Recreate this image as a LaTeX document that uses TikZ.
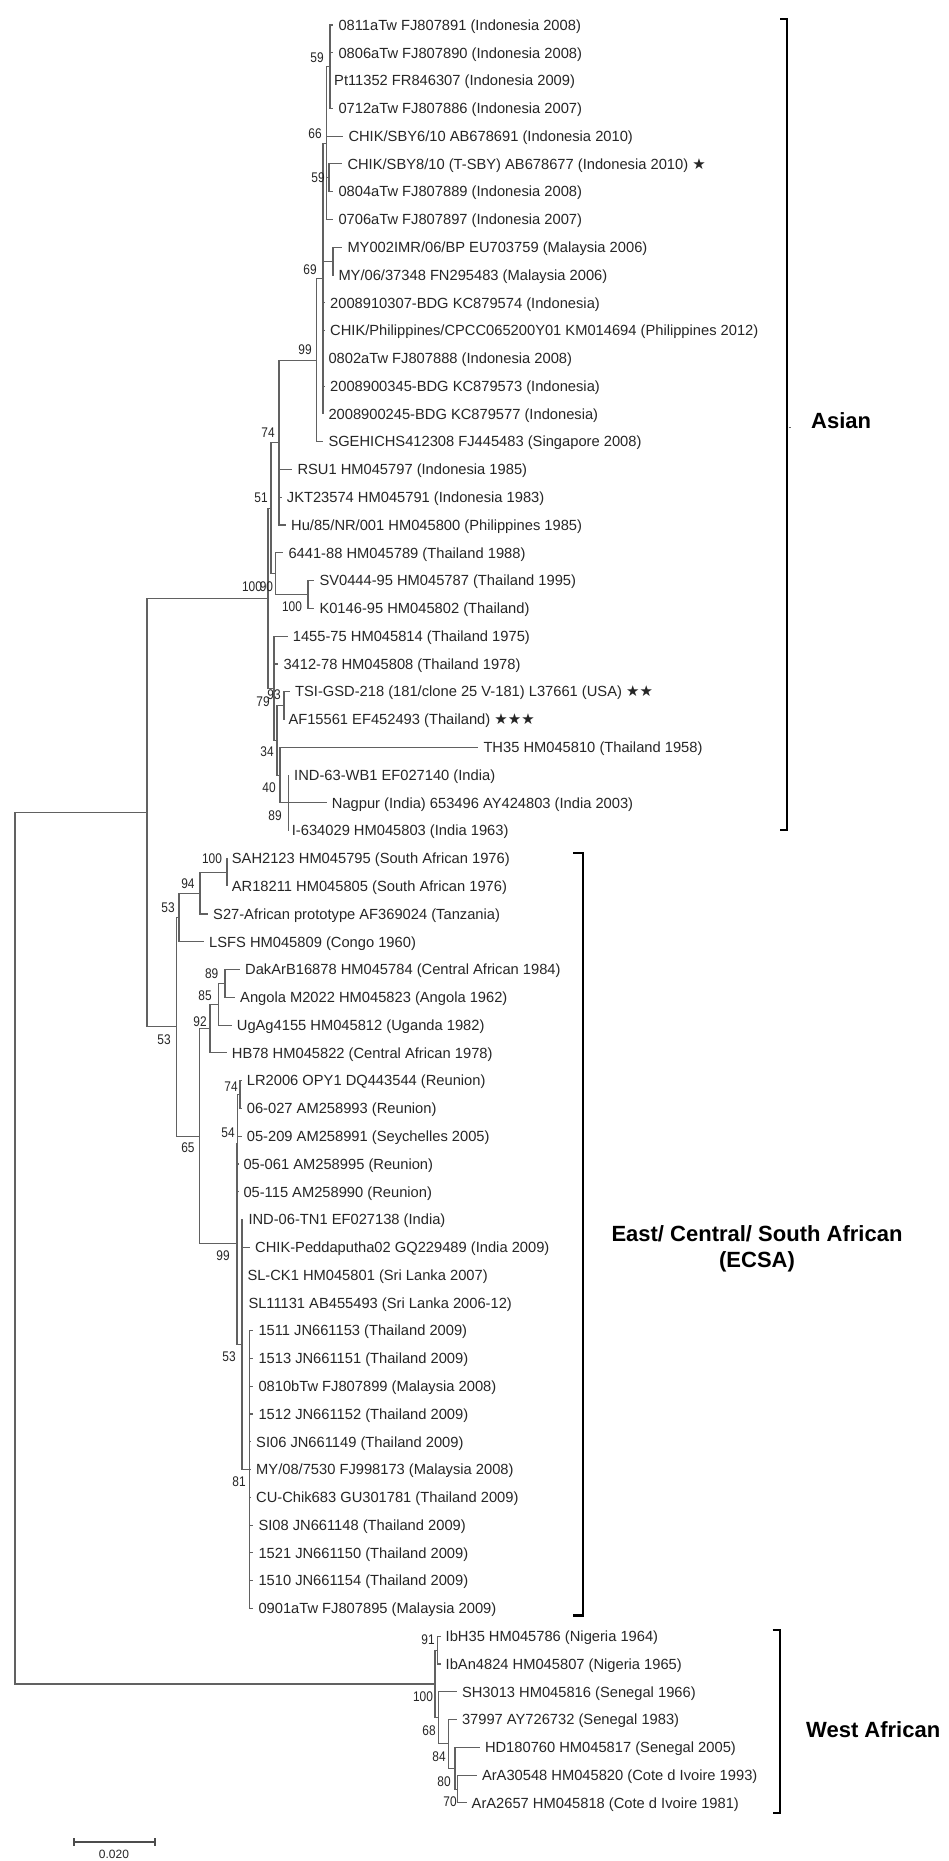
\documentclass[tikz,border=0pt]{standalone}
\usepackage{fontspec}
\usepackage{graphicx}
\setmainfont{Liberation Sans}
\newfontfamily\starfont{DejaVu Sans}
\newcommand{\leaffont}{\fontsize{14.7}{16}\selectfont}
\newcommand{\bsfont}{\fontsize{14}{14}\selectfont}
\newcommand{\grpfont}{\fontsize{22}{26}\selectfont\bfseries}
\newcommand{\bsv}[1]{\scalebox{0.85}[1]{#1}}
\newcommand{\stars}[1]{{\starfont\fontsize{15}{15}\selectfont #1}}
\begin{document}
\begin{tikzpicture}[x=1pt,y=-1pt,
  br/.style={draw=black!62, line width=1.1pt},
  leaf/.style={anchor=west, inner sep=0pt, font=\leaffont, text=black!85, text height=10.5pt, text depth=0pt},
  bs/.style={inner sep=0pt, font=\bsfont, text=black!85},
  grp/.style={inner sep=0pt, font=\grpfont, text=black},
  bracket/.style={draw=black, line width=2.3pt}]
\useasboundingbox (0,0) rectangle (949,1861);
\fill[white] (0,0) rectangle (949,1861);

% ---------- internal nodes ----------
\coordinate (root) at (15,1248.24);
\coordinate (AE) at (147,812.49);
\coordinate (R) at (268,598.18);
\coordinate (n51) at (271,508.10);
\coordinate (n74) at (279,442.57);
\coordinate (n99) at (316.7,360.10);
\coordinate (P) at (323,278.50);
\coordinate (n66) at (326.7,143.07);
\coordinate (nA) at (330,66.67);
\coordinate (n59b) at (329,177.79);
\coordinate (nMY) at (333,261.13);
\coordinate (n90) at (275.7,573.66);
\coordinate (n100b) at (308,594.49);
\coordinate (n79) at (274,688.25);
\coordinate (n34) at (277,740.34);
\coordinate (n93) at (284,705.61);
\coordinate (n40) at (280,775.06);
\coordinate (n89) at (288.3,802.84);
\coordinate (E0) at (176.5,1026.8);
\coordinate (n53u) at (179,917.43);
\coordinate (n94) at (200,893.13);
\coordinate (n100e) at (227,872.29);
\coordinate (n65) at (199.5,1136.2);
\coordinate (n92) at (210,1028.55);
\coordinate (n85) at (218.3,1004.25);
\coordinate (n89e) at (225,983.41);
\coordinate (n99e) at (237,1243.85);
\coordinate (n54) at (237.5,1143.15);
\coordinate (n74r) at (240,1094.53);
\coordinate (n53b) at (242,1344.55);
\coordinate (n81) at (249.5,1469.56);
\coordinate (W) at (435,1683.99);
\coordinate (n91) at (437.6,1650.13);
\coordinate (n68) at (438.5,1717.85);
\coordinate (n84) at (448.5,1743.89);
\coordinate (n80) at (455,1768.2);
\coordinate (n70) at (457.5,1789.03);

% ---------- leaves: tips and labels ----------
\coordinate (t1) at (333.3,25.00);   \node[leaf] (l1) at (338.3,25.00) {0811aTw FJ807891 (Indonesia 2008)};
\coordinate (t2) at (333.3,52.78);   \node[leaf] (l2) at (338.3,52.78) {0806aTw FJ807890 (Indonesia 2008)};
\coordinate (t3) at (330,80.56);     \node[leaf] (l3) at (334,80.56) {Pt11352 FR846307 (Indonesia 2009)};
\coordinate (t4) at (333.3,108.34);  \node[leaf] (l4) at (338.3,108.34) {0712aTw FJ807886 (Indonesia 2007)};
\coordinate (t5) at (343.3,136.12);  \node[leaf] (l5) at (348.3,136.12) {CHIK/SBY6/10 AB678691 (Indonesia 2010)};
\coordinate (t6) at (342.3,163.90);  \node[leaf] (l6) at (347.3,163.90) {CHIK/SBY8/10 (T-SBY) AB678677 (Indonesia 2010) \stars{★}};
\coordinate (t7) at (333.3,191.68);  \node[leaf] (l7) at (338.3,191.68) {0804aTw FJ807889 (Indonesia 2008)};
\coordinate (t8) at (333.3,219.46);  \node[leaf] (l8) at (338.3,219.46) {0706aTw FJ807897 (Indonesia 2007)};
\coordinate (t9) at (342.3,247.24);  \node[leaf] (l9) at (347.3,247.24) {MY002IMR/06/BP EU703759 (Malaysia 2006)};
\coordinate (t10) at (333.3,275.02); \node[leaf] (l10) at (338.3,275.02) {MY/06/37348 FN295483 (Malaysia 2006)};
\coordinate (t11) at (325,302.80);   \node[leaf] (l11) at (330,302.80) {2008910307-BDG KC879574 (Indonesia)};
\coordinate (t12) at (325,330.58);   \node[leaf] (l12) at (330,330.58) {CHIK/Philippines/CPCC065200Y01 KM014694 (Philippines 2012)};
\coordinate (t13) at (323.3,358.36); \node[leaf] (l13) at (328.3,358.36) {0802aTw FJ807888 (Indonesia 2008)};
\coordinate (t14) at (325,386.14);   \node[leaf] (l14) at (330,386.14) {2008900345-BDG KC879573 (Indonesia)};
\coordinate (t15) at (323.3,413.92); \node[leaf] (l15) at (328.3,413.92) {2008900245-BDG KC879577 (Indonesia)};
\coordinate (t16) at (323.3,441.70); \node[leaf] (l16) at (328.3,441.70) {SGEHICHS412308 FJ445483 (Singapore 2008)};
\coordinate (t17) at (292.3,469.48); \node[leaf] (l17) at (297.3,469.48) {RSU1 HM045797 (Indonesia 1985)};
\coordinate (t18) at (281.7,497.26); \node[leaf] (l18) at (286.7,497.26) {JKT23574 HM045791 (Indonesia 1983)};
\coordinate (t19) at (286,525.04);   \node[leaf] (l19) at (291,525.04) {Hu/85/NR/001 HM045800 (Philippines 1985)};
\coordinate (t20) at (283.3,552.82); \node[leaf] (l20) at (288.3,552.82) {6441-88 HM045789 (Thailand 1988)};
\coordinate (t21) at (314.3,580.60); \node[leaf] (l21) at (319.3,580.60) {SV0444-95 HM045787 (Thailand 1995)};
\coordinate (t22) at (314.3,608.38); \node[leaf] (l22) at (319.3,608.38) {K0146-95 HM045802 (Thailand)};
\coordinate (t23) at (287.7,636.16); \node[leaf] (l23) at (292.7,636.16) {1455-75 HM045814 (Thailand 1975)};
\coordinate (t24) at (278.3,663.94); \node[leaf] (l24) at (283.3,663.94) {3412-78 HM045808 (Thailand 1978)};
\coordinate (t25) at (290,691.72);   \node[leaf] (l25) at (295,691.72) {TSI-GSD-218 (181/clone 25 V-181) L37661 (USA) \stars{★★}};
\coordinate (t26) at (284,719.50);   \node[leaf] (l26) at (288.3,719.50) {AF15561 EF452493 (Thailand) \stars{★★★}};
\coordinate (t27) at (478.3,747.28); \node[leaf] (l27) at (483.3,747.28) {TH35 HM045810 (Thailand 1958)};
\coordinate (t28) at (289,775.06);   \node[leaf] (l28) at (294,775.06) {IND-63-WB1 EF027140 (India)};
\coordinate (t29) at (326.7,802.84); \node[leaf] (l29) at (331.7,802.84) {Nagpur (India) 653496 AY424803 (India 2003)};
\coordinate (t30) at (288.3,830.62); \node[leaf] (l30) at (291.7,830.62) {I-634029 HM045803 (India 1963)};
\coordinate (t31) at (227,858.40);   \node[leaf] (l31) at (231.7,858.40) {SAH2123 HM045795 (South African 1976)};
\coordinate (t32) at (227,886.18);   \node[leaf] (l32) at (231.7,886.18) {AR18211 HM045805 (South African 1976)};
\coordinate (t33) at (208,913.96);   \node[leaf] (l33) at (213,913.96) {S27-African prototype AF369024 (Tanzania)};
\coordinate (t34) at (204,941.74);   \node[leaf] (l34) at (209,941.74) {LSFS HM045809 (Congo 1960)};
\coordinate (t35) at (240,969.52);   \node[leaf] (l35) at (245,969.52) {DakArB16878 HM045784 (Central African 1984)};
\coordinate (t36) at (235,997.30);   \node[leaf] (l36) at (240,997.30) {Angola M2022 HM045823 (Angola 1962)};
\coordinate (t37) at (231.7,1025.08); \node[leaf] (l37) at (236.7,1025.08) {UgAg4155 HM045812 (Uganda 1982)};
\coordinate (t38) at (226.7,1052.86); \node[leaf] (l38) at (231.7,1052.86) {HB78 HM045822 (Central African 1978)};
\coordinate (t39) at (241.7,1080.64); \node[leaf] (l39) at (246.7,1080.64) {LR2006 OPY1 DQ443544 (Reunion)};
\coordinate (t40) at (241.7,1108.42); \node[leaf] (l40) at (246.7,1108.42) {06-027 AM258993 (Reunion)};
\coordinate (t41) at (241.7,1136.20); \node[leaf] (l41) at (246.7,1136.20) {05-209 AM258991 (Seychelles 2005)};
\coordinate (t42) at (238.3,1163.98); \node[leaf] (l42) at (243.3,1163.98) {05-061 AM258995 (Reunion)};
\coordinate (t43) at (238.3,1191.76); \node[leaf] (l43) at (243.3,1191.76) {05-115 AM258990 (Reunion)};
\coordinate (t44) at (243.3,1219.54); \node[leaf] (l44) at (248.3,1219.54) {IND-06-TN1 EF027138 (India)};
\coordinate (t45) at (250,1247.32);   \node[leaf] (l45) at (255,1247.32) {CHIK-Peddaputha02 GQ229489 (India 2009)};
\coordinate (t46) at (242.3,1275.10); \node[leaf] (l46) at (247.3,1275.10) {SL-CK1 HM045801 (Sri Lanka 2007)};
\coordinate (t47) at (243.3,1302.88); \node[leaf] (l47) at (248.3,1302.88) {SL11131 AB455493 (Sri Lanka 2006-12)};
\coordinate (t48) at (253.3,1330.66); \node[leaf] (l48) at (258.3,1330.66) {1511 JN661153 (Thailand 2009)};
\coordinate (t49) at (253.3,1358.44); \node[leaf] (l49) at (258.3,1358.44) {1513 JN661151 (Thailand 2009)};
\coordinate (t50) at (253.3,1386.22); \node[leaf] (l50) at (258.3,1386.22) {0810bTw FJ807899 (Malaysia 2008)};
\coordinate (t51) at (253.3,1414.00); \node[leaf] (l51) at (258.3,1414.00) {1512 JN661152 (Thailand 2009)};
\coordinate (t52) at (251,1441.78);   \node[leaf] (l52) at (256,1441.78) {SI06 JN661149 (Thailand 2009)};
\coordinate (t53) at (251,1469.56);   \node[leaf] (l53) at (256,1469.56) {MY/08/7530 FJ998173 (Malaysia 2008)};
\coordinate (t54) at (251,1497.34);   \node[leaf] (l54) at (256,1497.34) {CU-Chik683 GU301781 (Thailand 2009)};
\coordinate (t55) at (253.3,1525.12); \node[leaf] (l55) at (258.3,1525.12) {SI08 JN661148 (Thailand 2009)};
\coordinate (t56) at (253.3,1552.90); \node[leaf] (l56) at (258.3,1552.90) {1521 JN661150 (Thailand 2009)};
\coordinate (t57) at (253.3,1580.68); \node[leaf] (l57) at (258.3,1580.68) {1510 JN661154 (Thailand 2009)};
\coordinate (t58) at (253.3,1608.46); \node[leaf] (l58) at (258.3,1608.46) {0901aTw FJ807895 (Malaysia 2009)};
\coordinate (t59) at (440.5,1636.24); \node[leaf] (l59) at (445.5,1636.24) {IbH35 HM045786 (Nigeria 1964)};
\coordinate (t60) at (440.5,1664.02); \node[leaf] (l60) at (445.5,1664.02) {IbAn4824 HM045807 (Nigeria 1965)};
\coordinate (t61) at (456.8,1691.80); \node[leaf] (l61) at (461.8,1691.80) {SH3013 HM045816 (Senegal 1966)};
\coordinate (t62) at (456.8,1719.58); \node[leaf] (l62) at (461.8,1719.58) {37997 AY726732 (Senegal 1983)};
\coordinate (t63) at (479.8,1747.36); \node[leaf] (l63) at (484.8,1747.36) {HD180760 HM045817 (Senegal 2005)};
\coordinate (t64) at (476.8,1775.14); \node[leaf] (l64) at (481.8,1775.14) {ArA30548 HM045820 (Cote d Ivoire 1993)};
\coordinate (t65) at (466.5,1802.92); \node[leaf] (l65) at (471.5,1802.92) {ArA2657 HM045818 (Cote d Ivoire 1981)};

% ---------- branches ----------
\draw[br] (root) |- (AE);   \draw[br] (root) |- (W);
\draw[br] (AE) |- (R);      \draw[br] (AE) |- (E0);
\draw[br] (R) |- (n51);     \draw[br] (R) |- (n79);
\draw[br] (n51) |- (n74);   \draw[br] (n51) |- (n90);
\draw[br] (n74) |- (n99);   \draw[br] (n74) |- (t17); \draw[br] (n74) |- (t18); \draw[br] (n74) |- (t19);
\draw[br] (n99) |- (P);     \draw[br] (n99) |- (t16);
\draw[br] (P) |- (n66);     \draw[br] (P) |- (nMY);
\draw[br] (P) |- (t11); \draw[br] (P) |- (t12); \draw[br] (P) |- (t13); \draw[br] (P) |- (t14); \draw[br] (P) |- (t15);
\draw[br] (n66) |- (nA);    \draw[br] (n66) |- (t5); \draw[br] (n66) |- (n59b); \draw[br] (n66) |- (t8);
\draw[br] (nA) |- (t1); \draw[br] (nA) |- (t2); \draw[br] (nA) |- (t3); \draw[br] (nA) |- (t4);
\draw[br] (n59b) |- (t6); \draw[br] (n59b) |- (t7);
\draw[br] (nMY) |- (t9); \draw[br] (nMY) |- (t10);
\draw[br] (n90) |- (t20); \draw[br] (n90) |- (n100b);
\draw[br] (n100b) |- (t21); \draw[br] (n100b) |- (t22);
\draw[br] (n79) |- (t23); \draw[br] (n79) |- (t24); \draw[br] (n79) |- (n34);
\draw[br] (n34) |- (n93); \draw[br] (n34) |- (n40);
\draw[br] (n93) |- (t25); \draw[br] (n93) |- (t26);
\draw[br] (n40) |- (t27); \draw[br] (n40) |- (n89);
\draw[br] (n89) |- (t28); \draw[br] (n89) |- (t29); \draw[br] (n89) |- (t30);
\draw[br] (E0) |- (n53u); \draw[br] (E0) |- (n65);
\draw[br] (n53u) |- (n94); \draw[br] (n53u) |- (t34);
\draw[br] (n94) |- (n100e); \draw[br] (n94) |- (t33);
\draw[br] (n100e) |- (t31); \draw[br] (n100e) |- (t32);
\draw[br] (n65) |- (n92); \draw[br] (n65) |- (n99e);
\draw[br] (n92) |- (n85); \draw[br] (n92) |- (t38);
\draw[br] (n85) |- (n89e); \draw[br] (n85) |- (t37);
\draw[br] (n89e) |- (t35); \draw[br] (n89e) |- (t36);
\draw[br] (n99e) |- (n54); \draw[br] (n99e) |- (n53b);
\draw[br] (n54) |- (n74r); \draw[br] (n54) |- (t41); \draw[br] (n54) |- (t42); \draw[br] (n54) |- (t43);
\draw[br] (n74r) |- (t39); \draw[br] (n74r) |- (t40);
\draw[br] (n53b) |- (t44); \draw[br] (n53b) |- (t45); \draw[br] (n53b) |- (t46); \draw[br] (n53b) |- (t47); \draw[br] (n53b) |- (n81);
\foreach \i in {48,...,58} {\draw[br] (n81) |- (t\i);}
\draw[br] (W) |- (n91); \draw[br] (W) |- (n68);
\draw[br] (n91) |- (t59); \draw[br] (n91) |- (t60);
\draw[br] (n68) |- (t61); \draw[br] (n68) |- (n84);
\draw[br] (n84) |- (t62); \draw[br] (n84) |- (n80);
\draw[br] (n80) |- (t63); \draw[br] (n80) |- (n70);
\draw[br] (n70) |- (t64); \draw[br] (n70) |- (t65);

% ---------- bootstrap values ----------
\node[bs] (b1) at (317,57.5) {\bsv{59}};
\node[bs] (b2) at (315,134) {\bsv{66}};
\node[bs] (b3) at (318,177.5) {\bsv{59}};
\node[bs] (b4) at (310,270) {\bsv{69}};
\node[bs] (b5) at (305,350) {\bsv{99}};
\node[bs] (b6) at (268,433) {\bsv{74}};
\node[bs] (b7) at (261,498) {\bsv{51}};
\node[bs] (b8) at (252,587) {\bsv{100}};
\node[bs] (b9) at (266.4,587) {\bsv{90}};
\node[bs] (b10) at (292,607) {\bsv{100}};
\node[bs] (b11) at (263,702) {\bsv{79}};
\node[bs] (b12) at (274,695) {\bsv{93}};
\node[bs] (b13) at (267,751.7) {\bsv{34}};
\node[bs] (b14) at (269,788) {\bsv{40}};
\node[bs] (b15) at (275,816) {\bsv{89}};
\node[bs] (b16) at (212,859) {\bsv{100}};
\node[bs] (b17) at (188,884) {\bsv{94}};
\node[bs] (b18) at (168,908) {\bsv{53}};
\node[bs] (b19) at (164,1040) {\bsv{53}};
\node[bs] (b20) at (211.7,974) {\bsv{89}};
\node[bs] (b21) at (205,996) {\bsv{85}};
\node[bs] (b22) at (200,1021.7) {\bsv{92}};
\node[bs] (b23) at (231,1086.7) {\bsv{74}};
\node[bs] (b24) at (188,1148) {\bsv{65}};
\node[bs] (b25) at (228,1133) {\bsv{54}};
\node[bs] (b26) at (223,1256) {\bsv{99}};
\node[bs] (b27) at (229,1357) {\bsv{53}};
\node[bs] (b28) at (239,1482) {\bsv{81}};
\node[bs] (b29) at (428,1640) {\bsv{91}};
\node[bs] (b30) at (423,1697) {\bsv{100}};
\node[bs] (b31) at (429,1731) {\bsv{68}};
\node[bs] (b32) at (439,1757) {\bsv{84}};
\node[bs] (b33) at (444,1781.7) {\bsv{80}};
\node[bs] (b34) at (450,1801.7) {\bsv{70}};

% ---------- clade brackets and names ----------
\draw[bracket] (780,19) -- (786.7,19) -- (786.7,830) -- (780,830);
\draw[black!60, line width=1pt] (788.5,427) -- (791,427);
\draw[bracket] (573,852.8) -- (582.7,852.8) -- (582.7,1615.5) -- (573,1615.5);
\draw[bracket] (772.7,1630) -- (780,1630) -- (780,1812.7) -- (772.7,1812.7);
\node[grp, anchor=west] (asian) at (811,421) {Asian};
\node[grp, align=center] (ecsa) at (757,1249) {East/ Central/ South African\\(ECSA)};
\node[grp, anchor=west] (west) at (806,1730) {West African};

% ---------- scale bar ----------
\coordinate (sb1) at (74,1842);
\coordinate (sb2) at (155,1842);
\draw[black!70, line width=1.2pt] (sb1) -- (sb2);
\draw[black!70, line width=1.2pt] ([yshift=4pt]sb1) -- ([yshift=-4pt]sb1);
\draw[black!70, line width=1.2pt] ([yshift=4pt]sb2) -- ([yshift=-4pt]sb2);
\node[inner sep=0pt, font=\fontsize{12}{12}\selectfont, text=black!85] (sbl) at (114,1854) {0.020};
\end{tikzpicture}
\end{document}
